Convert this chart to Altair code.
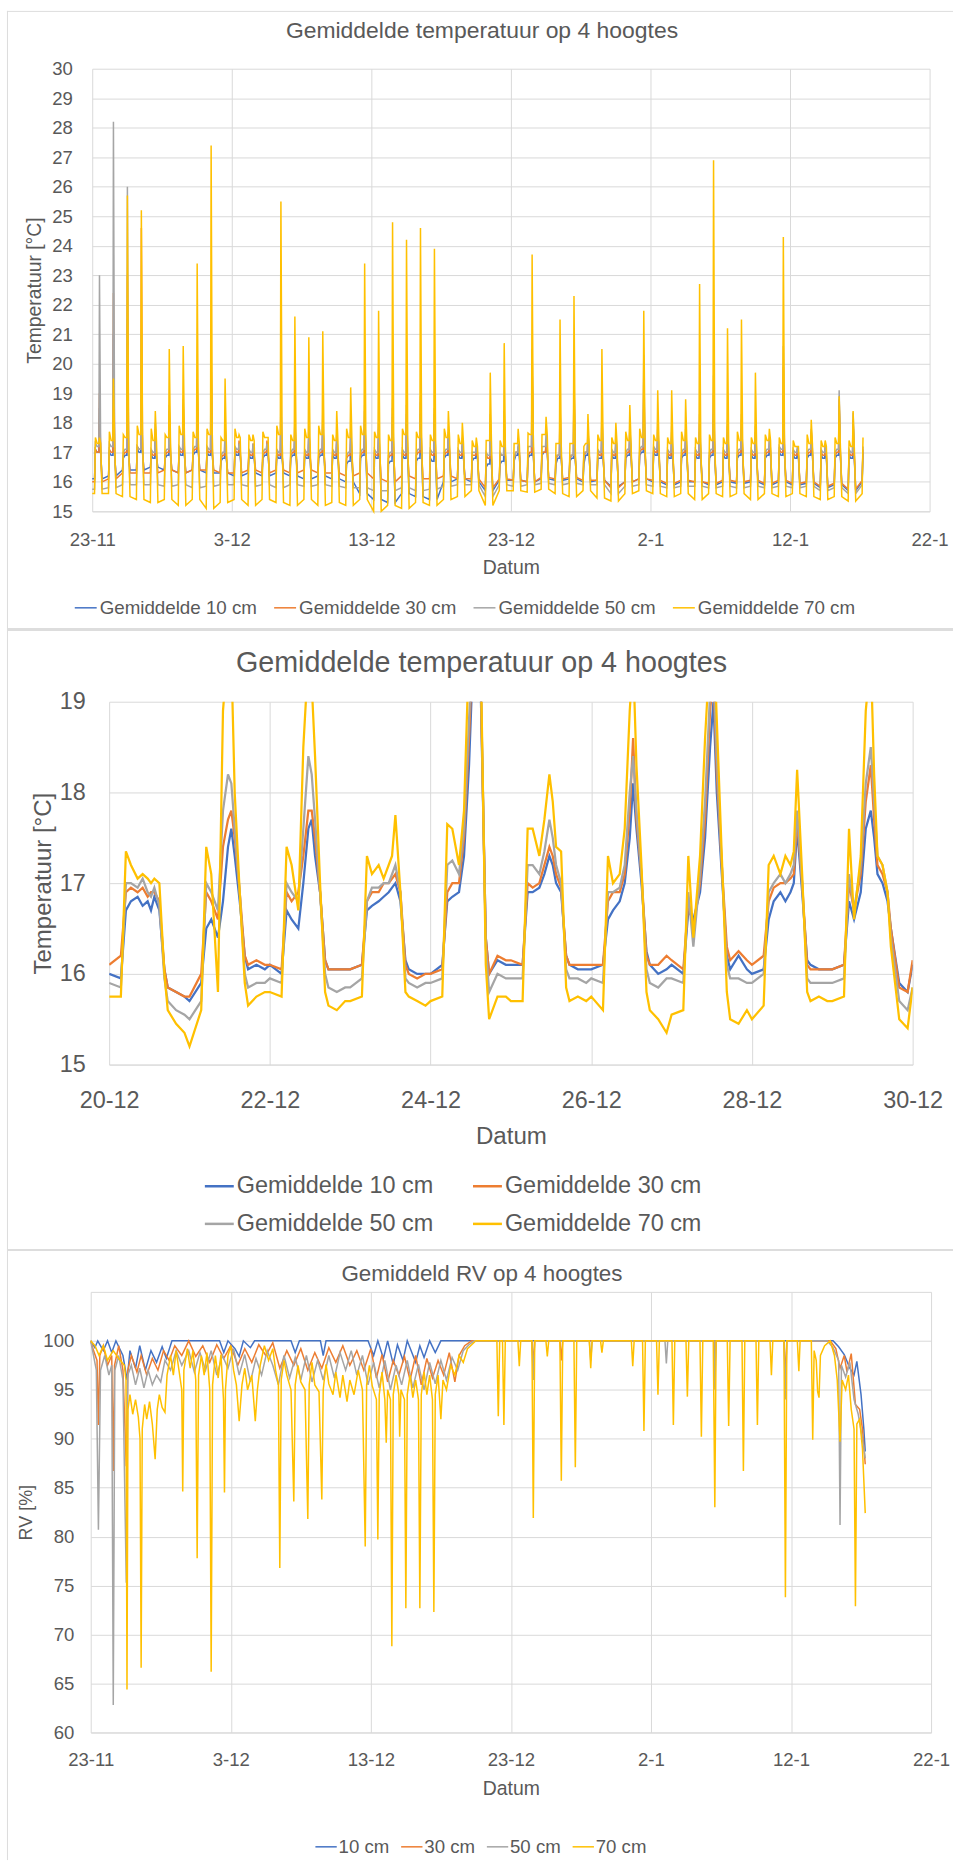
import altair as alt
import pandas as pd

FONT = "Liberation Sans"
TXT = "#595959"
GRID = "#D9D9D9"
FRAME = "#DDDDDD"
COLORS = ["#4472C4", "#ED7D31", "#A5A5A5", "#FFC000"]
BASE = pd.Timestamp("2020-11-23")

names_temp = ["Gemiddelde 10 cm", "Gemiddelde 30 cm", "Gemiddelde 50 cm", "Gemiddelde 70 cm"]
names_rv = ["10 cm", "30 cm", "50 cm", "70 cm"]

# ---------------- Panel 1: daily night / morning / day / peak levels (23-11 .. 17-1) ----------------
day_hours = [4, 5.5, 8.5, 11.5, 12.5, 14.5, 17]

night_10 = [16.1, 16.2, 16.4, 16.4, 16.5, 16.4, 16.3, 16.4, 16.3, 16.3,
            16.2, 16.3, 16.2, 16.3, 16.2, 16.1, 16.2, 16.1, 16.0, 15.6,
            15.4, 15.3, 15.6, 15.5, 15.4, 16.0, 16.1, 16.0, 15.7, 16.05,
            16.05, 16.0, 16.1, 16.05, 16.1, 16.0, 16.05, 15.85, 16.0, 16.1,
            16.0, 15.9, 16.0, 16.0, 15.9, 16.0, 15.95, 16.0, 15.9, 16.0,
            15.9, 15.95, 15.8, 15.9, 15.7, 16.0]
night_30 = [16.0, 16.1, 16.3, 16.3, 16.3, 16.4, 16.3, 16.4, 16.4, 16.3,
            16.3, 16.4, 16.3, 16.4, 16.3, 16.4, 16.3, 16.3, 16.2, 16.3,
            16.1, 16.0, 16.2, 16.1, 16.1, 16.2, 16.1, 16.1, 15.8, 16.1,
            16.05, 16.0, 16.15, 16.1, 16.15, 16.05, 16.05, 15.8, 16.0, 16.1,
            16.05, 15.95, 16.05, 16.0, 15.95, 16.05, 16.0, 16.05, 15.95, 16.05,
            15.95, 16.0, 15.85, 15.95, 15.75, 16.05]
night_50 = [15.75, 15.8, 15.9, 15.9, 15.9, 15.85, 15.9, 15.8, 15.85, 15.9,
            15.9, 15.85, 15.9, 15.8, 15.9, 15.85, 15.9, 15.85, 15.8, 15.8,
            15.7, 15.7, 15.8, 15.7, 15.75, 15.85, 15.9, 15.9, 15.5, 15.9,
            15.85, 15.9, 15.95, 15.9, 15.95, 15.9, 15.9, 15.6, 15.85, 15.9,
            15.85, 15.8, 15.85, 15.85, 15.8, 15.85, 15.8, 15.85, 15.8, 15.85,
            15.8, 15.85, 15.7, 15.8, 15.6, 15.9]
night_70 = [15.6, 15.6, 15.5, 15.4, 15.3, 15.4, 15.2, 15.4, 15.1, 15.3,
            15.4, 15.2, 15.4, 15.3, 15.2, 15.4, 15.2, 15.3, 15.2, 15.4,
            15.0, 15.2, 15.1, 15.3, 15.2, 15.4, 15.5, 15.7, 15.2, 15.7,
            15.7, 15.65, 15.75, 15.6, 15.5, 15.7, 15.45, 15.35, 15.6, 15.7,
            15.6, 15.5, 15.6, 15.4, 15.6, 15.5, 15.6, 15.4, 15.6, 15.5,
            15.6, 15.5, 15.4, 15.5, 15.35, 15.6]

morning_10 = [17.1, 17.0, 16.8, 17.1, 16.9, 16.8, 17.0, 16.9, 17.0, 16.7,
              17.0, 16.9, 16.8, 16.9, 16.8, 16.9, 16.8, 16.9, 16.6, 16.8,
              16.9, 16.6, 16.9, 16.7, 16.8, 16.8, 16.9, 16.7, 16.5, 16.6,
              16.7, 16.8, 16.9, 16.6, 16.7, 16.6, 16.8, 16.9, 16.8, 16.9,
              17.0, 16.9, 16.8, 16.9, 16.8, 16.9, 16.8, 16.9, 16.8, 17.0,
              16.9, 16.8, 16.9, 16.8, 16.9, 17.0]
morning_30 = [17.1, 17.1, 16.9, 17.2, 17.0, 16.9, 17.1, 17.0, 17.1, 16.8,
              17.1, 17.0, 16.9, 17.0, 16.9, 17.0, 16.9, 17.0, 16.8, 16.9,
              17.0, 16.8, 17.0, 16.9, 17.0, 16.9, 17.0, 16.9, 16.9, 16.9,
              16.8, 16.9, 17.0, 16.8, 16.8, 16.9, 17.0, 17.0, 16.9, 17.0,
              17.1, 17.0, 16.9, 17.0, 16.9, 17.0, 16.9, 17.0, 16.9, 17.1,
              17.0, 16.9, 17.0, 16.9, 17.0, 17.1]
morning_50 = [17.3, 17.3, 17.0, 17.2, 17.1, 17.0, 17.2, 17.1, 17.2, 16.9,
              17.2, 17.1, 17.0, 17.1, 17.0, 17.1, 17.0, 17.1, 16.9, 17.0,
              17.1, 16.9, 17.1, 17.0, 17.1, 17.0, 17.1, 17.0, 17.0, 17.0,
              16.8, 17.2, 17.2, 16.9, 16.9, 17.0, 17.1, 17.1, 17.0, 17.1,
              17.2, 17.1, 17.0, 17.1, 17.0, 17.1, 17.0, 17.1, 17.0, 17.2,
              17.1, 17.0, 17.1, 17.0, 17.1, 17.2]
morning_70 = [17.5, 17.7, 17.6, 17.9, 17.8, 17.6, 17.9, 17.7, 17.8, 17.5,
              17.8, 17.6, 17.7, 17.9, 17.6, 17.8, 17.9, 17.6, 17.8, 17.9,
              17.7, 17.6, 17.8, 17.7, 17.6, 17.8, 17.6, 17.4, 17.4, 17.4,
              17.3, 17.65, 17.6, 17.3, 17.3, 17.2, 17.6, 17.5, 17.7, 17.8,
              17.6, 17.5, 17.7, 17.5, 17.6, 17.5, 17.7, 17.5, 17.6, 17.5,
              17.4, 17.6, 17.4, 17.5, 17.4, 17.5]

day_10 = [17.0, 16.9, 16.9, 17.0, 16.8, 16.9, 16.9, 17.0, 16.9, 16.8,
          16.9, 16.8, 16.9, 16.8, 16.9, 16.8, 16.9, 16.8, 16.7, 16.9,
          16.8, 16.7, 16.8, 16.8, 16.7, 16.9, 16.8, 16.8, 16.6, 16.7,
          16.9, 16.9, 17.0, 16.8, 16.8, 16.9, 16.8, 16.8, 16.9, 17.0,
          16.9, 16.8, 16.9, 16.8, 16.9, 16.8, 16.9, 16.8, 16.9, 16.9,
          16.8, 16.9, 16.8, 16.9, 16.8, 16.9]
day_30 = [17.0, 17.0, 17.0, 17.1, 16.9, 17.0, 17.0, 17.1, 17.0, 16.9,
          17.0, 16.9, 17.0, 16.9, 17.0, 16.9, 17.0, 16.9, 16.9, 17.0,
          16.9, 16.9, 16.9, 17.0, 16.9, 17.0, 16.9, 16.9, 16.8, 16.9,
          17.0, 17.0, 17.0, 16.9, 16.9, 17.0, 16.9, 16.9, 17.0, 17.1,
          17.0, 16.9, 17.0, 16.9, 17.0, 16.9, 17.0, 16.9, 17.0, 17.0,
          16.9, 17.0, 16.9, 17.0, 16.9, 17.0]
day_50 = [17.2, 17.2, 17.1, 17.1, 17.0, 17.1, 17.1, 17.2, 17.1, 17.0,
          17.1, 17.0, 17.1, 17.0, 17.1, 17.0, 17.1, 17.0, 17.0, 17.1,
          17.0, 17.0, 17.0, 17.1, 17.0, 17.1, 17.0, 17.0, 16.9, 16.9,
          17.0, 17.2, 17.2, 16.9, 16.9, 17.0, 17.0, 17.0, 17.1, 17.2,
          17.1, 17.0, 17.1, 17.0, 17.1, 17.0, 17.1, 17.0, 17.1, 17.1,
          17.0, 17.1, 17.0, 17.1, 17.0, 17.2]
day_70 = [17.3, 17.4, 17.5, 17.6, 17.4, 17.5, 17.6, 17.5, 17.6, 17.4,
          17.5, 17.4, 17.5, 17.6, 17.4, 17.5, 17.6, 17.4, 17.5, 17.6,
          17.5, 17.4, 17.6, 17.5, 17.4, 17.5, 17.3, 17.2, 17.4, 17.2,
          17.3, 17.6, 17.6, 17.3, 17.3, 17.3, 17.4, 17.3, 17.4, 17.5,
          17.4, 17.3, 17.4, 17.3, 17.4, 17.3, 17.4, 17.3, 17.4, 17.3,
          17.2, 17.3, 17.2, 17.3, 17.2, 17.4]

peak_10 = [18.5, 21.0, 21.5, 20.0, 17.6, 18.2, 18.3, 18.8, 19.5, 17.7,
           17.3, 17.2, 17.2, 18.2, 17.8, 17.6, 18.0, 17.3, 17.5, 18.0,
           17.5, 18.2, 18.0, 18.3, 18.0, 17.5, 17.2, 17.1, 17.6, 17.7,
           17.1, 19.6, 17.3, 18.1, 19.0, 17.6, 17.8, 17.3, 17.6, 18.9,
           17.5, 17.5, 17.4, 17.7, 18.3, 17.6, 17.8, 17.5, 17.2, 19.0,
           17.0, 17.5, 17.1, 18.6, 18.0, 17.0]
peak_30 = [19.0, 22.4, 23.0, 24.6, 17.8, 18.4, 18.6, 19.2, 20.0, 17.9,
           17.4, 17.3, 17.4, 18.6, 18.1, 17.8, 18.2, 17.6, 17.7, 18.4,
           17.8, 18.5, 18.3, 18.7, 18.3, 17.6, 17.4, 17.2, 17.8, 17.9,
           17.2, 20.0, 17.4, 18.7, 19.4, 17.7, 18.3, 17.5, 17.8, 19.6,
           17.8, 17.7, 17.6, 18.0, 19.0, 17.9, 18.1, 17.7, 17.4, 19.9,
           17.1, 17.7, 17.2, 18.8, 18.1, 17.5]
peak_50 = [23.0, 28.2, 26.0, 21.0, 18.0, 18.6, 18.8, 19.5, 20.5, 18.0,
           17.3, 17.3, 17.3, 18.8, 18.2, 17.9, 18.4, 17.6, 17.8, 18.6,
           18.0, 18.8, 18.6, 18.9, 18.5, 17.7, 17.5, 17.3, 18.3, 18.4,
           17.3, 20.5, 17.7, 18.5, 19.6, 17.8, 18.5, 17.6, 17.9, 20.3,
           18.0, 17.9, 17.8, 18.3, 19.6, 18.1, 18.3, 17.9, 17.5, 20.6,
           17.2, 17.8, 17.3, 19.1, 18.35, 17.2]
peak_70 = [17.5, 19.5, 25.7, 25.2, 18.4, 20.5, 20.6, 23.4, 27.4, 19.5,
           17.6, 17.6, 17.5, 25.5, 21.6, 20.9, 21.1, 18.4, 19.2, 23.4,
           21.8, 24.8, 24.2, 24.6, 23.9, 18.4, 18.0, 17.5, 19.7, 20.7,
           17.8, 23.7, 18.2, 21.5, 22.3, 18.3, 20.5, 18.0, 18.6, 21.8,
           19.1, 19.1, 18.8, 22.7, 26.9, 21.2, 21.5, 19.7, 17.8, 24.3,
           17.2, 18.1, 17.4, 18.9, 18.4, 17.3]

# ---------------- Panel 2: 20-12 .. 30-12 ----------------
P2_START = pd.Timestamp("2020-12-20")
p2_hours = [0, 3.5, 5, 6.5, 8.5, 10, 11.5, 12.5, 13.5, 15, 16.5, 17.5, 20, 22.5]

zoom_10 = [16.0, 15.95, 16.7, 16.8, 16.85, 16.75, 16.8, 16.7, 16.85, 16.7, 16.05, 15.85, 15.8, 15.75,
           15.7, 15.9, 16.5, 16.6, 16.4, 16.8, 17.4, 17.6, 17.3, 16.8, 16.2, 16.05, 16.1, 16.05,
           16.1, 16.0, 16.7, 16.6, 16.5, 17.0, 17.6, 17.7, 17.3, 16.9, 16.15, 16.05, 16.05, 16.05,
           16.05, 16.1, 16.7, 16.75, 16.8, 16.85, 16.9, 16.95, 17.0, 16.8, 16.15, 16.05, 16.0, 16.0,
           16.0, 16.1, 16.8, 16.85, 16.9, 17.3, 18.3, 19.3, 19.4, 19.1, 16.4, 16.0, 16.15, 16.1,
           16.1, 16.1, 16.9, 16.9, 16.95, 17.1, 17.3, 17.2, 17.0, 16.9, 16.2, 16.1, 16.05, 16.05,
           16.05, 16.1, 16.6, 16.7, 16.8, 17.0, 17.5, 18.1, 17.6, 17.0, 16.25, 16.1, 16.0, 16.05,
           16.1, 16.0, 16.7, 16.6, 16.9, 17.5, 18.5, 19.0, 18.0, 17.1, 16.2, 16.05, 16.2, 16.05,
           16.0, 16.05, 16.6, 16.8, 16.9, 16.8, 16.9, 17.0, 17.6, 16.9, 16.15, 16.1, 16.05, 16.05,
           16.05, 16.1, 16.8, 16.6, 16.9, 17.6, 17.8, 17.5, 17.1, 17.0, 16.8, 16.5, 15.9, 15.8,
           16.1]
zoom_30 = [16.1, 16.2, 16.9, 16.95, 16.9, 16.95, 16.85, 16.9, 16.9, 16.8, 16.05, 15.85, 15.8, 15.75,
           15.75, 16.0, 16.9, 16.8, 16.6, 17.4, 17.7, 17.8, 17.5, 16.9, 16.2, 16.1, 16.15, 16.1,
           16.1, 16.05, 16.9, 16.8, 16.9, 17.3, 17.8, 17.8, 17.5, 16.9, 16.15, 16.05, 16.05, 16.05,
           16.05, 16.1, 16.8, 16.9, 16.9, 17.0, 17.0, 17.05, 17.1, 16.9, 16.1, 16.0, 15.95, 16.0,
           16.0, 16.05, 16.9, 17.0, 17.0, 17.5, 18.6, 19.5, 19.6, 19.2, 16.4, 16.0, 16.2, 16.15,
           16.15, 16.1, 17.0, 16.95, 17.0, 17.2, 17.4, 17.3, 17.1, 16.95, 16.2, 16.1, 16.1, 16.1,
           16.1, 16.1, 16.8, 16.9, 16.9, 17.1, 17.8, 18.6, 17.7, 17.1, 16.2, 16.1, 16.1, 16.2,
           16.15, 16.05, 16.8, 16.5, 17.0, 17.7, 18.9, 19.3, 18.2, 17.2, 16.3, 16.15, 16.25, 16.15,
           16.1, 16.2, 16.8, 16.95, 17.0, 17.0, 17.05, 17.1, 17.7, 17.0, 16.1, 16.05, 16.05, 16.05,
           16.05, 16.1, 17.0, 16.7, 17.1, 17.9, 18.3, 17.7, 17.2, 17.1, 16.9, 16.5, 15.85, 15.8,
           16.15]
zoom_50 = [15.9, 15.85, 17.0, 17.0, 16.95, 17.05, 16.9, 16.85, 16.95, 16.75, 15.95, 15.7, 15.6, 15.55,
           15.5, 15.7, 17.0, 16.9, 16.7, 17.8, 18.2, 18.1, 17.6, 16.9, 16.0, 15.85, 15.9, 15.9,
           15.95, 15.9, 17.0, 16.9, 16.8, 17.6, 18.4, 18.2, 17.7, 16.9, 16.0, 15.85, 15.8, 15.85,
           15.85, 15.95, 16.8, 16.95, 16.95, 17.0, 17.0, 17.1, 17.2, 16.9, 15.95, 15.9, 15.85, 15.9,
           15.9, 15.95, 17.2, 17.25, 17.1, 17.6, 18.8, 19.6, 19.6, 19.3, 16.3, 15.8, 16.0, 15.95,
           15.95, 15.95, 17.2, 17.2, 17.1, 17.35, 17.7, 17.5, 17.2, 17.0, 16.05, 15.95, 15.95, 15.9,
           15.95, 15.9, 16.9, 16.9, 16.95, 17.2, 18.0, 18.4, 17.8, 17.1, 16.05, 15.9, 15.85, 15.95,
           15.95, 15.9, 16.9, 16.3, 17.1, 17.9, 19.1, 19.4, 18.4, 17.2, 16.1, 15.95, 15.95, 15.9,
           15.9, 16.0, 16.9, 17.0, 17.1, 17.0, 17.1, 17.2, 17.8, 17.0, 15.95, 15.9, 15.9, 15.9,
           15.9, 15.95, 17.1, 16.7, 17.2, 18.1, 18.5, 17.9, 17.3, 17.2, 16.9, 16.4, 15.7, 15.6,
           15.85]
zoom_70 = [15.75, 15.75, 17.35, 17.2, 17.05, 17.1, 17.05, 17.0, 17.05, 17.0, 16.0, 15.6, 15.45, 15.35,
           15.2, 15.6, 17.4, 17.1, 15.8, 18.9, 19.6, 19.5, 18.0, 16.9, 15.9, 15.65, 15.75, 15.8,
           15.8, 15.75, 17.4, 17.2, 16.7, 18.5, 19.5, 19.2, 18.4, 17.0, 15.8, 15.65, 15.6, 15.7,
           15.7, 15.75, 17.3, 17.1, 17.2, 17.05, 17.2, 17.3, 17.75, 16.9, 15.8, 15.75, 15.7, 15.65,
           15.7, 15.75, 17.65, 17.6, 17.2, 17.8, 19.6, 19.8, 19.8, 19.5, 16.1, 15.5, 15.75, 15.75,
           15.7, 15.7, 17.6, 17.6, 17.3, 17.7, 18.2, 17.9, 17.4, 17.35, 15.85, 15.7, 15.75, 15.7,
           15.75, 15.6, 17.3, 17.0, 17.1, 17.6, 18.9, 19.5, 18.3, 17.2, 15.8, 15.6, 15.5, 15.35,
           15.55, 15.6, 17.3, 16.4, 17.3, 18.6, 19.6, 19.8, 18.8, 17.3, 15.8, 15.5, 15.45, 15.6,
           15.5, 15.65, 17.2, 17.3, 17.1, 17.3, 17.2, 17.35, 18.25, 17.1, 15.8, 15.7, 15.75, 15.7,
           15.7, 15.75, 17.6, 16.6, 17.3, 18.9, 19.5, 18.2, 17.3, 17.2, 16.9, 16.3, 15.5, 15.4,
           15.85]

# ---------------- Panel 3: RV, (day offset from 23-11, value) ----------------
rv_10 = [(0, 100), (0.3, 99.3), (0.5, 100), (0.9, 99), (1.2, 100), (1.5, 98.8), (1.8, 100),
         (2.3, 98.5), (2.6, 96), (2.8, 99), (3.2, 97.2), (3.5, 99.5), (3.9, 97), (4.3, 99),
         (4.7, 97.8), (5.1, 99.4), (5.4, 98.2), (5.8, 100), (9.2, 100), (9.5, 98.8), (9.8, 100),
         (10.3, 99.2), (10.6, 98.4), (10.9, 100), (11.4, 99.3), (11.7, 100), (14.3, 100),
         (14.6, 98.8), (14.9, 100), (16.4, 100), (16.6, 98.5), (16.8, 100), (19.8, 100),
         (20.2, 98.5), (20.5, 100), (20.9, 98.2), (21.2, 100), (21.6, 97.6), (21.9, 99.6),
         (22.3, 98), (22.6, 100), (23.2, 97.8), (23.5, 99.5), (23.8, 98.3), (24.2, 100),
         (24.6, 98.8), (25, 100), (53.0, 100), (53.4, 99.4), (53.8, 98.6), (54.2, 97.2),
         (54.5, 96.5), (54.7, 97.9), (55.0, 94.5), (55.2, 91), (55.3, 88.7)]
rv_30 = [(0, 100), (0.2, 99), (0.45, 98), (0.55, 91.4), (0.65, 98.5), (0.9, 99.5), (1.2, 97.5),
         (1.5, 98.5), (1.61, 86.7), (1.7, 97.5), (2.0, 99.5), (2.3, 97), (2.54, 87.2), (2.65, 97),
         (2.9, 98.5), (3.3, 96.8), (3.6, 98.5), (4.0, 96.5), (4.4, 98.2), (4.8, 97), (5.2, 99),
         (5.6, 98), (6.0, 99.5), (6.5, 98.5), (7.0, 100), (7.5, 98.4), (8.0, 99.5), (8.5, 97.8),
         (9.0, 99.6), (9.5, 98.2), (10.0, 99.5), (10.5, 97.5), (11.0, 99.2), (11.5, 97.8),
         (12.0, 99.6), (12.5, 98.5), (13.0, 99.8), (13.5, 97.2), (14.0, 99), (14.5, 97.5),
         (15.0, 99.2), (15.5, 97), (16.0, 98.8), (16.5, 97.2), (17.0, 99.3), (17.5, 97.8),
         (18.0, 99.5), (18.5, 97.5), (19.0, 99), (19.5, 97), (20.0, 99.2), (20.4, 96.2),
         (20.8, 98.6), (21.2, 95.8), (21.6, 98), (22.0, 96.5), (22.4, 98.4), (22.8, 96),
         (23.2, 98.5), (23.6, 95.5), (24.0, 98.2), (24.4, 96.2), (24.8, 98), (25.2, 96.5),
         (25.6, 98.8), (26.0, 95.8), (26.3, 98.5), (26.7, 99.5), (27.2, 100), (31.5, 100),
         (31.6, 97.5), (31.7, 100), (33.5, 100), (33.6, 98), (33.7, 100), (44.5, 100),
         (44.56, 97), (44.65, 100), (49.5, 100), (49.6, 96), (49.7, 100), (52.8, 100),
         (53.2, 99.2), (53.5, 97.2), (53.8, 98.5), (54.0, 96.8), (54.3, 98.7), (54.6, 93.5),
         (54.9, 93), (55.1, 91), (55.3, 87.4)]
rv_50 = [(0, 100), (0.2, 98.5), (0.4, 97), (0.55, 80.7), (0.7, 97), (1.0, 98.5), (1.3, 96.5),
         (1.5, 97.5), (1.61, 62.8), (1.72, 97), (2.0, 98.5), (2.3, 96), (2.54, 75.3), (2.65, 96.5),
         (2.9, 97.5), (3.2, 95.5), (3.5, 97.2), (3.8, 95.2), (4.1, 97), (4.4, 95.5), (4.7, 96.5),
         (5.0, 95.8), (5.3, 98), (5.7, 97), (6.1, 99), (6.5, 97.5), (7.0, 99), (7.4, 96.8),
         (7.8, 98.8), (8.2, 97), (8.6, 99), (9.0, 96.5), (9.4, 98.5), (9.8, 97.2), (10.2, 99.2),
         (10.6, 96.5), (11.0, 98.6), (11.4, 95.8), (11.8, 98.2), (12.2, 96.5), (12.6, 99),
         (13.0, 97.5), (13.4, 95.5), (13.8, 98.5), (14.2, 96.2), (14.6, 98.3), (15.0, 96),
         (15.4, 98.5), (15.8, 95.8), (16.2, 98), (16.6, 96), (17.0, 98.5), (17.4, 96.2),
         (17.8, 98.8), (18.2, 97), (18.6, 99), (19.0, 96.5), (19.4, 98.5), (19.8, 95.5),
         (20.2, 97.8), (20.6, 95.2), (21.0, 98), (21.4, 95), (21.8, 97.5), (22.2, 95.5),
         (22.6, 98), (23.0, 95.2), (23.4, 97.6), (23.8, 95), (24.2, 97.8), (24.6, 95.6),
         (25.0, 98), (25.4, 96), (25.8, 98.3), (26.2, 97), (26.6, 99), (27.0, 99.6), (27.4, 100),
         (31.5, 100), (31.6, 96), (31.7, 100), (35.6, 100), (35.7, 98), (35.8, 100), (41.0, 100),
         (41.1, 97.7), (41.2, 100), (44.5, 100), (44.56, 95), (44.65, 100), (49.5, 100),
         (49.6, 94), (49.7, 100), (52.6, 100), (53.0, 99.3), (53.4, 98), (53.5, 81.2),
         (53.6, 97.5), (53.9, 96.3), (54.2, 97.8), (54.5, 94), (54.8, 92.5), (55.1, 90),
         (55.3, 88)]
rv_70 = [(0, 100), (0.3, 99.5), (0.6, 98.5), (0.9, 99.5), (1.2, 98), (1.6, 99), (2.0, 98.2),
         (2.4, 97.5), (2.52, 96), (2.59, 64.4), (2.66, 93), (2.8, 94.5), (3.0, 92.5), (3.2, 94),
         (3.4, 92.2), (3.52, 90), (3.6, 66.6), (3.68, 91), (3.85, 93.5), (4.0, 92), (4.2, 93.8),
         (4.4, 91.5), (4.6, 87.9), (4.75, 93), (4.9, 94.5), (5.1, 93.2), (5.3, 92.7), (5.45, 96.5),
         (5.7, 98.5), (5.9, 96.5), (6.1, 99), (6.3, 97), (6.5, 95), (6.57, 84.6), (6.65, 97),
         (6.9, 99.2), (7.1, 97.2), (7.3, 99), (7.5, 96), (7.6, 77.8), (7.7, 96.5), (7.9, 98.5),
         (8.1, 96.5), (8.3, 98.8), (8.5, 95), (8.6, 66.2), (8.7, 95.5), (8.9, 98.5), (9.1, 96.2),
         (9.3, 98.6), (9.48, 94), (9.55, 84.5), (9.62, 95), (9.8, 98.5), (10.0, 99.5), (10.2, 97),
         (10.4, 95.5), (10.6, 91.8), (10.8, 95.5), (11.0, 97.2), (11.2, 95), (11.5, 96.5),
         (11.75, 91.8), (11.9, 95), (12.1, 97.5), (12.4, 99.5), (12.7, 98), (13.0, 99.2),
         (13.2, 97), (13.4, 95.5), (13.5, 76.8), (13.6, 96), (13.8, 98), (14.0, 96.5), (14.3, 95),
         (14.5, 83.6), (14.6, 95.5), (14.8, 97.5), (15.0, 95.8), (15.3, 95), (15.5, 81.8),
         (15.6, 95.5), (15.8, 97.8), (16.0, 95.5), (16.3, 94.8), (16.5, 83.8), (16.6, 95),
         (16.8, 97.6), (17.0, 95.6), (17.3, 94.5), (17.5, 96.8), (17.8, 94.2), (18.0, 96.5),
         (18.3, 93.8), (18.5, 96), (18.8, 94.5), (19.1, 97), (19.4, 95), (19.6, 79.0),
         (19.7, 95.5), (19.9, 97.5), (20.1, 95.4), (20.4, 94), (20.5, 79.7), (20.6, 94.5),
         (20.8, 96.8), (21.0, 94), (21.1, 89.6), (21.2, 95), (21.4, 94), (21.5, 68.8),
         (21.6, 94.5), (21.8, 96.5), (22.0, 94.5), (22.06, 90.2), (22.15, 95), (22.4, 94),
         (22.5, 72.7), (22.6, 94.5), (22.8, 96.5), (23.0, 94.2), (23.2, 96), (23.4, 94),
         (23.5, 72.7), (23.6, 94.5), (23.8, 96.8), (24.0, 94.5), (24.2, 96.5), (24.4, 94),
         (24.5, 72.3), (24.6, 94.5), (24.8, 96.5), (25.0, 92.0), (25.15, 96), (25.4, 95),
         (25.7, 97.5), (26.0, 96.5), (26.3, 98.5), (26.6, 97.8), (26.9, 99.2), (27.2, 99.6),
         (27.5, 100), (29.0, 100), (29.1, 92.3), (29.2, 100), (29.4, 100), (29.5, 91.4),
         (29.6, 100), (30.5, 100), (30.6, 97.4), (30.7, 100), (31.5, 100), (31.6, 81.9),
         (31.7, 100), (32.5, 100), (32.6, 98.4), (32.7, 100), (33.5, 100), (33.6, 85.7),
         (33.7, 100), (34.5, 100), (34.6, 87.1), (34.7, 100), (35.6, 100), (35.7, 97.2),
         (35.8, 100), (36.4, 100), (36.5, 98.8), (36.6, 100), (38.6, 100), (38.7, 97.4),
         (38.8, 100), (39.4, 100), (39.5, 90.8), (39.6, 100), (40.4, 100), (40.5, 94.5),
         (40.6, 100), (41.5, 100), (41.6, 91.4), (41.7, 100), (42.5, 100), (42.6, 94.3),
         (42.7, 100), (43.5, 100), (43.6, 90.2), (43.7, 100), (44.45, 100), (44.56, 83.0),
         (44.65, 100), (45.45, 100), (45.55, 91.3), (45.65, 100), (46.5, 100), (46.6, 86.7),
         (46.7, 100), (47.5, 100), (47.6, 91.4), (47.7, 100), (48.5, 100), (48.6, 96.5),
         (48.7, 100), (49.5, 100), (49.6, 73.8), (49.7, 100), (50.45, 100), (50.56, 96.9),
         (50.65, 100), (51.45, 100), (51.55, 89.9), (51.65, 99), (51.8, 98), (51.9, 94.8),
         (52.0, 94.2), (52.1, 98.5), (52.4, 99.5), (52.8, 100), (53.1, 98.5), (53.3, 96),
         (53.5, 89.7), (53.65, 96), (53.9, 95), (54.1, 96.5), (54.3, 93), (54.5, 91),
         (54.6, 72.9), (54.7, 91.5), (54.9, 92), (55.1, 89), (55.3, 82.4)]


# ---------------- build tables ----------------
def daily_table(name, night, morning, day, peak):
    ts, vs = [BASE], [night[0]]
    last = len(night) - 1
    for d in range(len(night)):
        vals = [night[d], morning[d], day[d], day[d], peak[d], day[d], night[d]]
        for h, v in zip(day_hours, vals):
            if d == last and h > 8:
                continue
            ts.append(BASE + pd.Timedelta(days=d, hours=h))
            vs.append(v)
    return pd.DataFrame({"t": ts, "v": vs, "s": name})


def zoom_table(name, values):
    ts = []
    for d in range(10):
        for h in p2_hours:
            ts.append(P2_START + pd.Timedelta(days=d, hours=h))
    ts.append(P2_START + pd.Timedelta(days=10))
    return pd.DataFrame({"t": ts, "v": values, "s": name})


def rv_table(name, pairs):
    return pd.DataFrame({"t": [BASE + pd.Timedelta(days=p[0]) for p in pairs],
                         "v": [p[1] for p in pairs], "s": name})


df1 = pd.concat([daily_table(names_temp[0], night_10, morning_10, day_10, peak_10),
                 daily_table(names_temp[1], night_30, morning_30, day_30, peak_30),
                 daily_table(names_temp[2], night_50, morning_50, day_50, peak_50),
                 daily_table(names_temp[3], night_70, morning_70, day_70, peak_70)],
                ignore_index=True)
df2 = pd.concat([zoom_table(names_temp[0], zoom_10), zoom_table(names_temp[1], zoom_30),
                 zoom_table(names_temp[2], zoom_50), zoom_table(names_temp[3], zoom_70)],
                ignore_index=True)
df3 = pd.concat([rv_table(names_rv[0], rv_10), rv_table(names_rv[1], rv_30),
                 rv_table(names_rv[2], rv_50), rv_table(names_rv[3], rv_70)], ignore_index=True)


def dt(y, m, d):
    return alt.DateTime(year=y, month=m, date=d)


long_ticks = [dt(2020, 11, 23), dt(2020, 12, 3), dt(2020, 12, 13), dt(2020, 12, 23),
              dt(2021, 1, 2), dt(2021, 1, 12), dt(2021, 1, 22)]
zoom_ticks = [dt(2020, 12, 20), dt(2020, 12, 22), dt(2020, 12, 24), dt(2020, 12, 26),
              dt(2020, 12, 28), dt(2020, 12, 30)]


def x_enc(domain, ticks, fs, pad, tfs, ty):
    return alt.X("t:T", scale=alt.Scale(domain=domain),
                 axis=alt.Axis(values=ticks, format="%-d-%-m", title="Datum",
                               labelFont=FONT, labelFontSize=fs, labelColor=TXT,
                               labelPadding=pad, labelFlush=False, labelOverlap=False,
                               ticks=False, tickSize=0, domainColor=GRID, domainWidth=1,
                               grid=True, gridColor=GRID, gridWidth=1,
                               titleFont=FONT, titleFontSize=tfs, titleColor=TXT,
                               titleFontWeight="normal", titleBaseline="alphabetic",
                               titleY=ty))


def y_enc(domain, ticks, fs, pad, title, tfs, tx, ty, expr=None):
    kw = dict(values=ticks, title=title, labelFont=FONT, labelFontSize=fs, labelColor=TXT,
              labelPadding=pad, ticks=False, tickSize=0, domain=False,
              grid=True, gridColor=GRID, gridWidth=1,
              titleFont=FONT, titleFontSize=tfs, titleColor=TXT, titleFontWeight="normal",
              titleBaseline="alphabetic", titleAngle=270, titleAlign="center",
              titleX=tx, titleY=ty)
    if expr:
        kw["labelExpr"] = expr
    return alt.Y("v:Q", scale=alt.Scale(domain=domain, nice=False, zero=False),
                 axis=alt.Axis(**kw))


def color_enc(names, lx, ly, cols, ssize, sw, fs, loff, cpad, rpad):
    return alt.Color("s:N", scale=alt.Scale(domain=names, range=COLORS),
                     legend=alt.Legend(title=None, orient="none", legendX=lx, legendY=ly,
                                       direction="horizontal", columns=cols,
                                       symbolType="stroke", symbolSize=ssize,
                                       symbolStrokeWidth=sw, labelFont=FONT,
                                       labelFontSize=fs, labelColor=TXT, labelOffset=loff,
                                       labelLimit=600, columnPadding=cpad, rowPadding=rpad,
                                       padding=0))


def title(text, fs, dx, off):
    return alt.TitleParams(text=text, font=FONT, fontSize=fs, fontWeight="normal", color=TXT,
                           anchor="middle", frame="group", dx=dx, offset=off)


p1 = alt.Chart(df1).mark_line(strokeWidth=1.5).encode(
    x=x_enc([dt(2020, 11, 23), dt(2021, 1, 22)], long_ticks, 18.6, 19, 19.5, 62.5),
    y=y_enc([15, 30], list(range(15, 31)), 18.6, 20, "Temperatuur [°C]", 19.4, -51.7, 222),
    color=color_enc(names_temp, -18.5, 528.7, 4, 484, 1.5, 18.8, 2, 14, 0),
).properties(width=840, height=444,
             title=title("Gemiddelde temperatuur op 4 hoogtes", 23, -29, 17))

p2 = alt.Chart(df2).mark_line(strokeWidth=2.25, clip=True).encode(
    x=x_enc([dt(2020, 12, 20), dt(2020, 12, 30)], zoom_ticks, 23.5, 24, 24.2, 79.2),
    y=y_enc([15, 19], [15, 16, 17, 18, 19], 23.5, 24, "Temperatuur [°C]", 24.1, -59.3, 182),
    color=color_enc(names_temp, 94.5, 469.8, 2, 841, 2.5, 23.5, 1.5, 34, 10),
).properties(width=806, height=364,
             title=title("Gemiddelde temperatuur op 4 hoogtes", 28.8, -29.5, 12))

p3 = alt.Chart(df3).mark_line(strokeWidth=1.5).encode(
    x=x_enc([dt(2020, 11, 23), dt(2021, 1, 22)], long_ticks, 18.6, 18, 19.5, 62.3),
    y=y_enc([60, 105], list(range(60, 106, 5)), 18.6, 17, "RV [%]", 18, -59.3, 221,
            expr="datum.value > 100 ? '' : datum.label"),
    color=color_enc(names_rv, 224.6, 544.8, 4, 458, 1.5, 18.7, 1, 8, 0),
).properties(width=843, height=442,
             title=title("Gemiddeld RV op 4 hoogtes", 22.5, -29, 6))

one = pd.DataFrame({"k": [0]})


def hline(x1, x2, y, w):
    return alt.Chart(one).mark_rule(color=FRAME, strokeWidth=w).encode(
        x=alt.value(x1), x2=alt.value(x2), y=alt.value(y))


def vline(x, y1, y2, w):
    return alt.Chart(one).mark_rule(color=FRAME, strokeWidth=w).encode(
        x=alt.value(x), y=alt.value(y1), y2=alt.value(y2))


spacer1 = alt.layer(
    hline(-84, 865, -501.5, 1),
    vline(-83.5, -502, 1353, 1),
    hline(-84, 865, 118.5, 3),
    hline(-84, 865, 741, 2),
).properties(width=843, height=191)

spacer2 = alt.Chart(one).mark_point(opacity=0).properties(width=843, height=228)

chart = alt.vconcat(p1, spacer1, p2, spacer2, p3, spacing=0, bounds="flush", center=True
                    ).resolve_scale(color="independent").resolve_legend(color="independent"
                    ).configure_view(stroke="transparent"
                    ).properties(padding={"left": 5, "top": 7, "right": 0, "bottom": 0},
                                 background="white")

chart.save("out.html", embed_options={"renderer": "svg", "actions": False})
